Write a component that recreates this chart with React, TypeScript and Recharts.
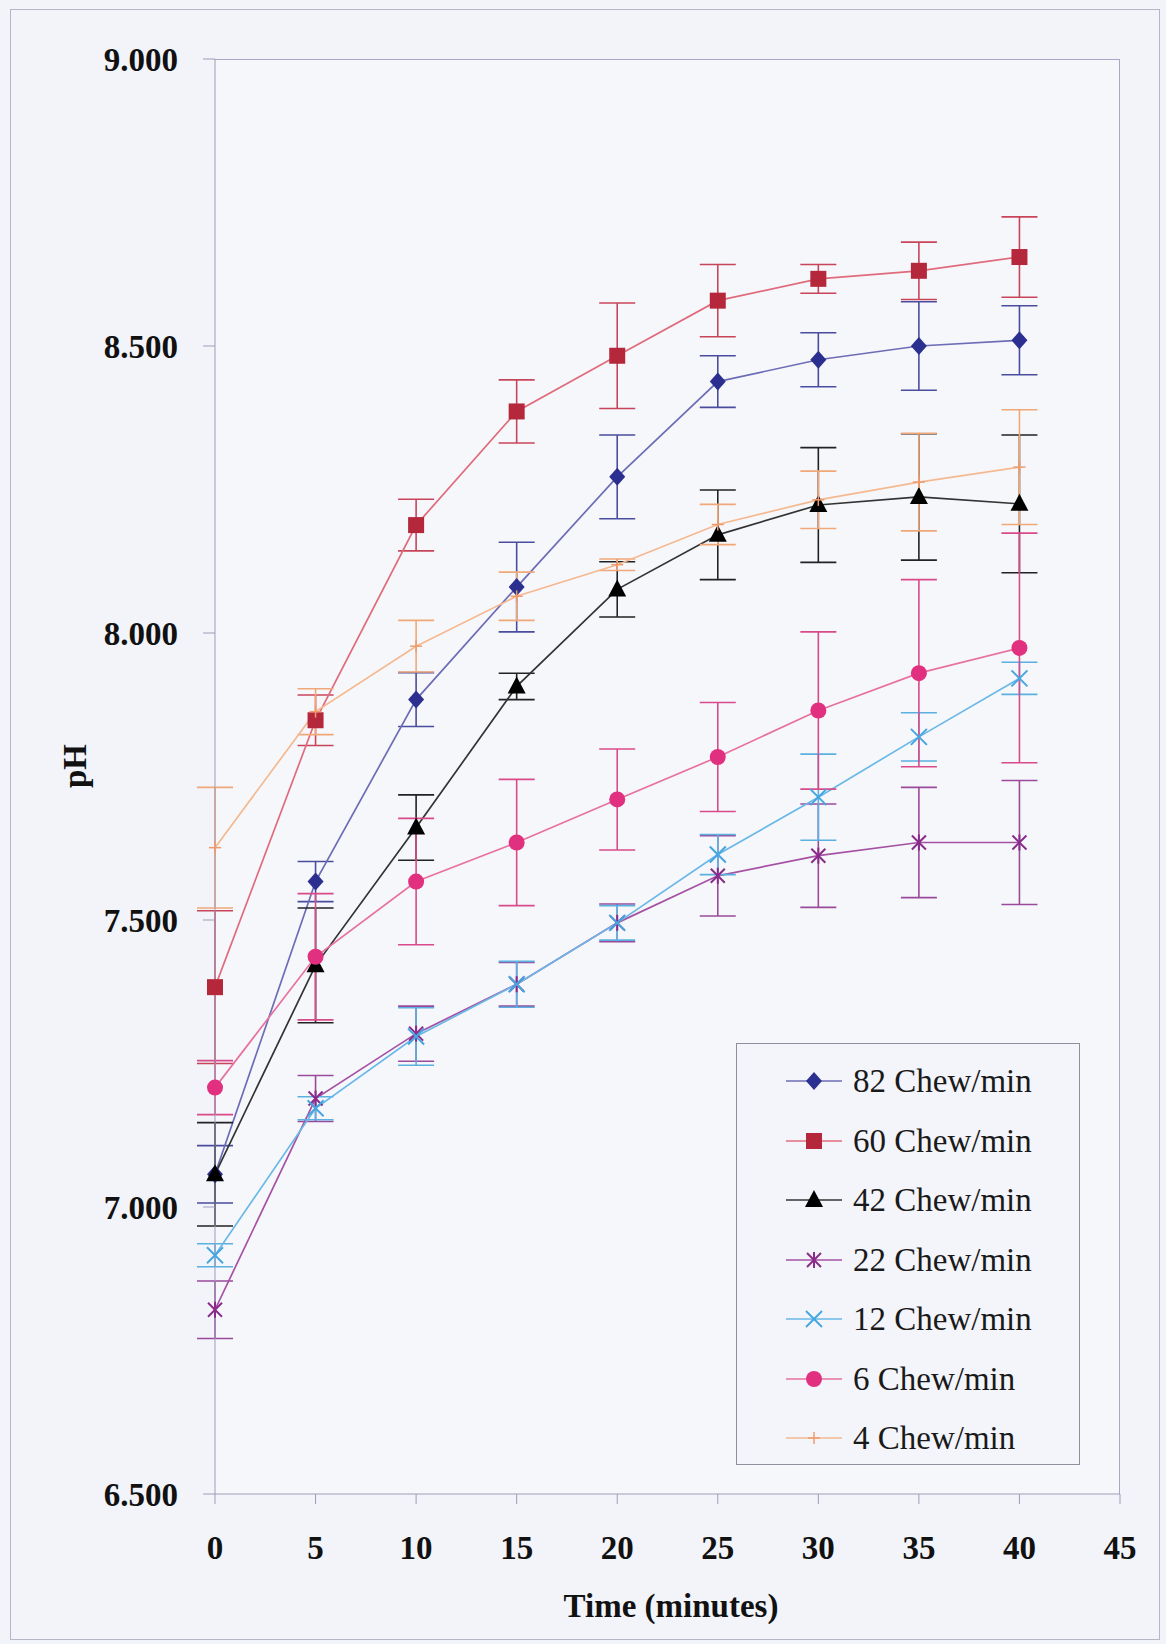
import React from "react";
import { LineChart, Line, XAxis, YAxis, ErrorBar } from "recharts";

// time points (minutes)
const TIMES = [0, 5, 10, 15, 20, 25, 30, 35, 40];

// mean pH per chewing rate, with error bar half-lengths
const PH_82 = [7.057, 7.567, 7.884, 8.08, 8.272, 8.438, 8.476, 8.5, 8.51];
const ERR_82 = [0.05, 0.035, 0.047, 0.078, 0.073, 0.045, 0.047, 0.077, 0.06];

const PH_60 = [7.383, 7.848, 8.188, 8.386, 8.483, 8.579, 8.617, 8.631, 8.655];
const ERR_60 = [0.133, 0.044, 0.045, 0.055, 0.092, 0.063, 0.025, 0.05, 0.07];

const PH_42 = [7.057, 7.421, 7.661, 7.907, 8.076, 8.171, 8.223, 8.237, 8.225];
const ERR_42 = [0.09, 0.1, 0.057, 0.023, 0.048, 0.078, 0.1, 0.11, 0.12];

const PH_22 = [6.821, 7.189, 7.302, 7.388, 7.495, 7.577, 7.612, 7.635, 7.635];
const ERR_22 = [0.05, 0.04, 0.048, 0.038, 0.033, 0.07, 0.09, 0.096, 0.108];

const PH_12 = [6.916, 7.172, 7.297, 7.388, 7.495, 7.614, 7.714, 7.819, 7.921];
const ERR_12 = [0.02, 0.02, 0.05, 0.04, 0.03, 0.035, 0.075, 0.042, 0.028];

const PH_6 = [7.208, 7.436, 7.567, 7.635, 7.71, 7.784, 7.865, 7.93, 7.974];
const ERR_6 = [0.047, 0.11, 0.11, 0.11, 0.088, 0.095, 0.137, 0.163, 0.2];

const PH_4 = [7.626, 7.863, 7.977, 8.064, 8.119, 8.189, 8.232, 8.263, 8.289];
const ERR_4 = [0.105, 0.04, 0.045, 0.042, 0.01, 0.035, 0.05, 0.085, 0.1];

const X_TICKS = [0, 5, 10, 15, 20, 25, 30, 35, 40, 45];
const Y_TICKS = [6.5, 7, 7.5, 8, 8.5, 9];

type Shape = "diamond" | "square" | "triangle" | "star" | "cross" | "circle" | "plus";

const SERIES: {
  id: string;
  name: string;
  values: number[];
  errors: number[];
  line: string;
  mark: string;
  err: string;
  shape: Shape;
}[] = [
  { id: "82", name: "82 Chew/min", values: PH_82, errors: ERR_82, line: "#6d6db6", mark: "#2b2f8f", err: "#4a4c9e", shape: "diamond" },
  { id: "60", name: "60 Chew/min", values: PH_60, errors: ERR_60, line: "#e06b7c", mark: "#b5283c", err: "#c8445a", shape: "square" },
  { id: "42", name: "42 Chew/min", values: PH_42, errors: ERR_42, line: "#333333", mark: "#000000", err: "#222222", shape: "triangle" },
  { id: "22", name: "22 Chew/min", values: PH_22, errors: ERR_22, line: "#a552a5", mark: "#8a2a8a", err: "#9a4a9a", shape: "star" },
  { id: "12", name: "12 Chew/min", values: PH_12, errors: ERR_12, line: "#6ab8e8", mark: "#45a6e0", err: "#5ab0e0", shape: "cross" },
  { id: "6", name: "6 Chew/min", values: PH_6, errors: ERR_6, line: "#e8729f", mark: "#e0307f", err: "#d84a8a", shape: "circle" },
  { id: "4", name: "4 Chew/min", values: PH_4, errors: ERR_4, line: "#f5b990", mark: "#f09a6a", err: "#f0a878", shape: "plus" },
];

const rows = TIMES.map((t, i) => {
  const r: Record<string, number> = { t };
  SERIES.forEach((s) => {
    r["v" + s.id] = s.values[i];
    r["e" + s.id] = s.errors[i];
  });
  return r;
});

const FONT = '"Liberation Serif", "Times New Roman", serif';

function Marker({ kind, cx, cy, color }: { kind: Shape; cx: number; cy: number; color: string }) {
  if (cx == null || cy == null) return null;
  switch (kind) {
    case "diamond":
      return <polygon points={`${cx},${cy - 9} ${cx + 8},${cy} ${cx},${cy + 9} ${cx - 8},${cy}`} fill={color} />;
    case "square":
      return <rect x={cx - 8} y={cy - 8} width={16} height={16} fill={color} />;
    case "triangle":
      return <polygon points={`${cx},${cy - 10} ${cx + 9},${cy + 7} ${cx - 9},${cy + 7}`} fill={color} />;
    case "star":
      return (
        <g stroke={color} strokeWidth={2}>
          <line x1={cx - 7} y1={cy - 7} x2={cx + 7} y2={cy + 7} />
          <line x1={cx - 7} y1={cy + 7} x2={cx + 7} y2={cy - 7} />
          <line x1={cx} y1={cy - 8} x2={cx} y2={cy + 8} />
        </g>
      );
    case "cross":
      return (
        <g stroke={color} strokeWidth={2}>
          <line x1={cx - 8} y1={cy - 8} x2={cx + 8} y2={cy + 8} />
          <line x1={cx - 8} y1={cy + 8} x2={cx + 8} y2={cy - 8} />
        </g>
      );
    case "circle":
      return <circle cx={cx} cy={cy} r={8} fill={color} />;
    case "plus":
      return (
        <g stroke={color} strokeWidth={1.5}>
          <line x1={cx - 6} y1={cy} x2={cx + 6} y2={cy} />
          <line x1={cx} y1={cy - 6} x2={cx} y2={cy + 6} />
        </g>
      );
  }
  return null;
}

export default function App() {
  return (
    <div style={{ position: "absolute", left: 0, top: 0, width: 1166, height: 1644, background: "#f2f4f9", fontFamily: FONT, overflow: "hidden" }}>
      {/* outer chart frame */}
      <div style={{ position: "absolute", left: 10, top: 9, width: 1148, height: 1629, border: "1.5px solid #b4b7c6" }} />
      {/* plot area frame */}
      <div style={{ position: "absolute", left: 215, top: 59, width: 904, height: 1434, borderTop: "1.5px solid #a8a8c6", borderRight: "1.5px solid #a8a8c6", background: "#f6f7fb" }} />

      <div style={{ position: "absolute", left: 0, top: 0 }}>
        <LineChart width={1166} height={1644} data={rows} margin={{ top: 59, right: 46, bottom: 0, left: 0 }}>
          <XAxis
            dataKey="t"
            type="number"
            domain={[0, 45]}
            ticks={X_TICKS}
            height={150}
            tickSize={10}
            tickMargin={32}
            stroke="#9c9cb8"
            tick={{ fontSize: 33, fontWeight: 700, fill: "#111", fontFamily: FONT }}
          />
          <YAxis
            type="number"
            domain={[6.5, 9]}
            ticks={Y_TICKS}
            width={215}
            tickSize={12}
            tickMargin={25}
            stroke="#9c9cb8"
            tickFormatter={(v: number) => v.toFixed(3)}
            tick={{ fontSize: 33, fontWeight: 700, fill: "#111", fontFamily: FONT }}
          />
          {SERIES.map((s) => (
            <Line
              key={s.id}
              dataKey={"v" + s.id}
              name={s.name}
              stroke={s.line}
              strokeWidth={1.7}
              isAnimationActive={false}
              activeDot={false}
              dot={(p: any) => <Marker key={`${s.id}-${p.index}`} kind={s.shape} cx={p.cx} cy={p.cy} color={s.mark} />}
            >
              <ErrorBar dataKey={"e" + s.id} direction="y" width={18} stroke={s.err} strokeWidth={1.6} />
            </Line>
          ))}
        </LineChart>
      </div>

      {/* axis titles */}
      <div style={{ position: "absolute", left: 471, top: 1586, width: 400, height: 40, lineHeight: "40px", textAlign: "center", fontSize: 33, fontWeight: 700, color: "#111" }}>
        Time (minutes)
      </div>
      <div style={{ position: "absolute", left: 25, top: 746, width: 100, height: 40, lineHeight: "40px", textAlign: "center", fontSize: 33, fontWeight: 700, color: "#111", transform: "rotate(-90deg)" }}>
        pH
      </div>

      {/* legend */}
      <div style={{ position: "absolute", left: 736, top: 1043, width: 342, height: 420, border: "1.5px solid #8e90a0", background: "#f4f5fa" }}>
        {SERIES.map((s, i) => (
          <div key={s.id} style={{ position: "absolute", left: 0, top: 7 + i * 59.5, height: 60, width: 340 }}>
            <svg width={60} height={60} style={{ position: "absolute", left: 47, top: 0 }}>
              <line x1={2} y1={30} x2={58} y2={30} stroke={s.line} strokeWidth={1.7} />
              <Marker kind={s.shape} cx={30} cy={30} color={s.mark} />
            </svg>
            <span style={{ position: "absolute", left: 116, top: 0, lineHeight: "60px", fontSize: 33, color: "#1a1a1a", whiteSpace: "nowrap" }}>{s.name}</span>
          </div>
        ))}
      </div>
    </div>
  );
}
